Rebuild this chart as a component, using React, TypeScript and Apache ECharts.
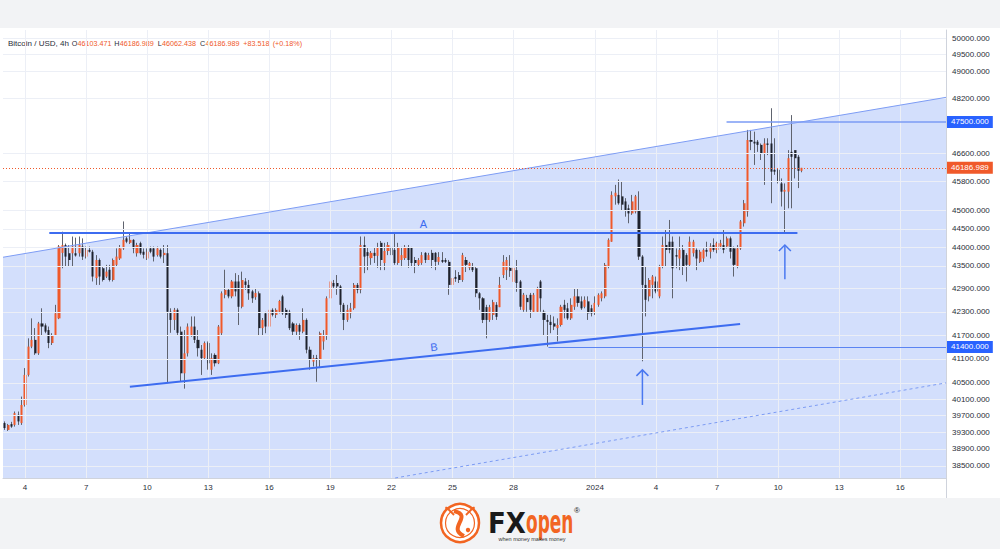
import React, { useEffect, useRef } from 'react';
import * as echarts from 'echarts';

// ---- time base (4h candles) ----
const T0 = Date.UTC(2023, 11, 3, 0, 0, 0);
const SLOT = 4 * 3600 * 1000;
const t = (slot: number) => T0 + slot * SLOT;

// ---- OHLC ----
const opens = [
  39520, 39355, 39495, 39475, 39720, 39520, 39960, 40700, 41410, 41580,
  41240, 42000, 41950, 41830, 41500, 41700, 42130, 43850, 44060, 43840,
  43840, 43840, 43840, 44020, 43750, 43930, 43880, 43180, 43660, 43440,
  43220, 43400, 43130, 43530, 43700, 43970, 44240, 44120, 44200, 43840,
  44110, 43880, 43700, 43970, 43970, 43790, 43930, 43790, 43840, 42300,
  42090, 42350, 41790, 40740, 41240, 41700, 41920, 41580, 41330, 41120,
  41500, 40830, 41200, 40990, 41750, 42740, 42870, 42700, 43090, 43090,
  42430, 43090, 43000, 42830, 42680, 42780, 41880, 42260, 41920, 42350,
  42220, 42300, 42700, 42350, 42300, 42000, 41790, 41960, 41790, 42090,
  41330, 41030, 41120, 41080, 41540, 41700, 42650, 43050, 43050, 42960,
  42480, 42090, 42260, 42390, 43000, 42870, 44060, 43870, 43710, 43850,
  43770, 44120, 43580, 43900, 44010, 43930, 43580, 43660, 43710, 43980,
  43980, 43660, 43530, 43580, 43850, 43660, 43850, 43850, 43610, 43660,
  43660, 43610, 43000, 43210, 43260, 43130, 43660, 43450, 43470, 43440,
  42780, 42650, 42420, 42090, 42220, 42480, 42420, 43260, 43390, 43450,
  43080, 43390, 43090, 42350, 42660, 42740, 42300, 42300, 43090, 42300,
  42090, 42040, 42000, 41880, 41960, 42480, 42390, 42130, 42430, 42700,
  42570, 42430, 42570, 42390, 42300, 42480, 42650, 42700, 43490, 44150,
  45390, 45430, 45390, 45250, 45060, 44920, 44970, 45010, 43750, 43000,
  42700, 43000, 43090, 42700, 43490, 44060, 44150, 44150, 43790, 43700,
  43930, 43790, 43530, 43840, 43930, 43610, 43700, 43930, 43880, 44060,
  43930, 44020, 44060, 44020, 44240, 43970, 43490, 43970, 44650, 44970,
  46980, 46930, 46930, 46840, 46600, 46880, 46880, 46130, 46130, 45750,
  45520, 45520, 46640, 46690, 46500, 46103.471,
];
const closes = [
  39400, 39475, 39435, 39760, 39560, 39960, 40700, 41410, 41580, 41240,
  42000, 41920, 41790, 41500, 41700, 42260, 44020, 44060, 43750, 43660,
  44020, 43780, 44060, 43750, 43930, 43880, 43220, 43660, 43220, 43130,
  43350, 43130, 43660, 43750, 43970, 44200, 44150, 44200, 43970, 44060,
  43840, 43800, 43880, 43880, 43750, 43970, 43750, 43850, 42300, 42090,
  42350, 41760, 40740, 41240, 41920, 41920, 41580, 41370, 41120, 41500,
  40990, 41120, 40990, 41920, 42780, 42870, 42700, 43090, 42830, 42430,
  43130, 43000, 42780, 42650, 42790, 41880, 42090, 41920, 42350, 42220,
  42350, 42580, 42260, 42220, 41880, 41790, 41960, 41790, 42090, 41330,
  41080, 41120, 41080, 41750, 41700, 42650, 43090, 42960, 42960, 42480,
  42090, 42350, 42390, 43000, 42870, 44060, 43750, 43770, 43850, 43770,
  43980, 43660, 43900, 44060, 43790, 43580, 44010, 43790, 44010, 43660,
  43580, 43580, 43660, 43790, 43660, 43790, 43660, 43610, 43740, 43610,
  43610, 43000, 43180, 43160, 43130, 43790, 43530, 43580, 43390, 42780,
  42650, 42090, 42090, 42420, 42550, 42170, 43000, 43610, 43660, 43370,
  43450, 43050, 42430, 42740, 42550, 42350, 42740, 42910, 42650, 42090,
  42040, 41960, 41920, 41960, 42430, 42350, 42130, 42480, 42700, 42530,
  42390, 42610, 42260, 42260, 42530, 42740, 42780, 43530, 44200, 45430,
  45490, 45200, 45160, 45010, 44920, 45250, 45390, 43750, 43000, 42610,
  43130, 43220, 42830, 43490, 44060, 43930, 43930, 43440, 43750, 43930,
  43490, 43530, 44150, 44150, 43700, 43880, 43930, 43880, 44020, 43930,
  44110, 44110, 43930, 44240, 43880, 43530, 43970, 44700, 45200, 46980,
  46930, 46880, 46840, 46600, 46880, 46840, 46080, 46080, 45800, 45520,
  45570, 46460, 46500, 46460, 46103.471, 46186.989,
];
const lows = [
  39355, 39330, 39405, 39435, 39475, 39475, 39920, 40660, 41370, 41200,
  41200, 41700, 41750, 41370, 41450, 41690, 42110, 43440, 43490, 43490,
  43490, 43750, 43750, 43660, 43700, 43860, 43090, 43000, 43000, 43090,
  43180, 43090, 43090, 43490, 43660, 43930, 44110, 44090, 43840, 43750,
  43800, 43700, 43660, 43840, 43620, 43750, 43700, 43580, 40500, 41760,
  41830, 41700, 40540, 40360, 41160, 41660, 41500, 41160, 40700, 41080,
  40830, 40700, 40910, 40970, 41700, 42650, 42650, 42650, 42700, 41960,
  42390, 42870, 42610, 42530, 42610, 41700, 41700, 41750, 41660, 42180,
  42140, 42260, 42220, 42140, 41830, 41700, 41700, 41580, 41750, 41240,
  40830, 40910, 40530, 40870, 41330, 41580, 42610, 42910, 42740, 42260,
  41830, 42040, 42130, 42350, 42780, 42780, 43310, 43390, 43530, 43580,
  43450, 43390, 43390, 43790, 43580, 43530, 43530, 43470, 43660, 43450,
  43470, 43310, 43470, 43530, 43580, 43660, 43450, 43390, 43530, 43580,
  43580, 42740, 42950, 43080, 43050, 43080, 43340, 43390, 43340, 42680,
  42350, 42010, 41620, 42040, 42090, 42090, 42420, 43180, 43130, 43210,
  43050, 42820, 42350, 42300, 42300, 42140, 42270, 42270, 42300, 41700,
  41410, 41750, 41830, 41540, 41920, 42130, 42090, 42090, 42350, 42430,
  42350, 42390, 42090, 42180, 42220, 42430, 42570, 42650, 43440, 44150,
  45160, 45160, 45010, 44830, 44650, 44880, 44920, 43660, 41040, 42180,
  42570, 42650, 42780, 42650, 43440, 43490, 43840, 42650, 43440, 43390,
  43260, 43090, 43490, 43750, 43390, 43580, 43610, 43750, 43700, 43880,
  43840, 43970, 43840, 43970, 43700, 43220, 43440, 43930, 44560, 44830,
  46690, 46270, 46640, 46410, 45710, 46550, 45200, 45990, 45750, 45110,
  44380, 45060, 45060, 45890, 45620, 46062.438,
];
const highs = [
  39560, 39500, 39550, 39800, 39800, 40165, 40870, 41620, 42130, 41880,
  42040, 42390, 42000, 41920, 41750, 42480, 44060, 44420, 44100, 44060,
  44290, 44260, 44290, 44240, 44020, 44020, 43930, 43790, 43700, 43480,
  43530, 43530, 43700, 43970, 44060, 44700, 44290, 44380, 44220, 44120,
  44150, 43970, 43970, 44020, 44020, 44020, 43970, 44060, 44060, 42390,
  42400, 42390, 41920, 41830, 42000, 42180, 42180, 41830, 41450, 41540,
  41540, 41240, 41240, 41960, 42830, 43400, 42910, 43130, 43310, 43260,
  43350, 43180, 43130, 42870, 42920, 42830, 42140, 42300, 42390, 42390,
  42390, 42610, 42740, 42400, 42350, 42040, 42000, 42000, 42390, 42130,
  41410, 41200, 41200, 41790, 41830, 42700, 43490, 43130, 43260, 43000,
  42530, 42480, 42530, 43050, 43050, 44290, 44290, 43980, 43900, 43980,
  44120, 44170, 44120, 44140, 44250, 44390, 44120, 44010, 44060, 44060,
  44010, 43740, 43710, 43870, 43870, 43850, 43930, 43870, 43870, 43870,
  43710, 43660, 43340, 43390, 43340, 43850, 43740, 43610, 43580, 43470,
  42810, 42680, 42480, 42480, 42610, 42550, 43210, 43790, 43740, 43790,
  43530, 43660, 43130, 42790, 42740, 42790, 42790, 42950, 43130, 42350,
  42220, 42220, 42180, 42130, 42480, 42610, 42530, 42650, 42910, 42910,
  42700, 42700, 42700, 42480, 42700, 42780, 42830, 43580, 44240, 45530,
  45710, 45860, 45810, 45340, 45160, 45430, 45430, 45530, 43790, 43490,
  43180, 43260, 43220, 43530, 44290, 44470, 44740, 44290, 43970, 44290,
  44060, 43840, 44290, 44200, 43970, 43930, 43970, 44150, 44110, 44240,
  44150, 44200, 44470, 44290, 44290, 44020, 44060, 44740, 45290, 47270,
  47270, 47220, 46980, 46880, 47030, 47030, 47900, 47030, 46180, 45890,
  45750, 46690, 47700, 46690, 46550, 46186.989,
];

// ---- axes ----
const priceMin = 38216;
const priceMax = 50245;
const slotFirst = -0.5;
const slotLast = 277.5;
const yTickValues = [50000, 49500, 49000, 48200, 46600, 45800, 45000, 44500, 44000, 43500, 42900, 42300, 41700, 41100, 40500, 40100, 39700, 39300, 38900, 38500];
const xTickDates = ['2023-12-04', '2023-12-07', '2023-12-10', '2023-12-13', '2023-12-16', '2023-12-19', '2023-12-22', '2023-12-25', '2023-12-28', '2024-01-01', '2024-01-04', '2024-01-07', '2024-01-10', '2024-01-13', '2024-01-16'];
const xTickLabels = ['4', '7', '10', '13', '16', '19', '22', '25', '28', '2024', '4', '7', '10', '13', '16'];

// ---- drawings: [startSlot, startPrice, endSlot, endPrice] ----
const channelUpper = [-0.5, 43733, 277.5, 48220];
const channelMid = [115.1, 38216, 277.5, 40502];
const lineA = [13.15, 44400, 233.7, 44400];
const lineB = [36.9, 40404, 216.8, 41987];
const level47500 = [212.8, 47500, 277.5, 47500];
const level41400 = [160.3, 41400, 277.5, 41400];
const arrowSlots = [188, 230];
const arrowFrom = [39960, 43150];
const arrowTo = [40825, 44060];

// ---- styles ----
const FONT = 'Liberation Sans, Arial, sans-serif';
const ORANGE = '#f0592a';
const LOGO = '#f26522';
const DARK = '#1e222d';
const WICK = '#5f636e';
const BLUE = '#3d6cf0';
const TEXT = '#2a2e39';
const GRID = '#eceff6';
const FILL = 'rgba(170,193,250,0.52)';

const xTickTimes = xTickDates.map((d) => Date.parse(d + 'T00:00:00Z'));

const seg = (s: number[], style: any, label?: any) => [
  { coord: [t(s[0]), s[1]], lineStyle: style, label: label || { show: false } },
  { coord: [t(s[2]), s[3]] },
];

function buildOption() {
  const n = opens.length;
  const wickData = opens.map((o, i) => [t(i), o, closes[i], lows[i], highs[i]]);
  const bodyData = opens.map((o, i) => [t(i), o, closes[i], Math.min(o, closes[i]), Math.max(o, closes[i])]);
  const lastO = opens[n - 1];
  const lastH = highs[n - 1];
  const lastL = lows[n - 1];
  const lastC = closes[n - 1];
  const chg = lastC - closes[n - 2];
  const pct = (chg / closes[n - 2]) * 100;

  const txt = (x: number, text: string, fill: string, size = 7.2) => ({
    type: 'text', x, y: 43, silent: true,
    style: { text, fill, fontSize: size, fontFamily: FONT, verticalAlign: 'middle', align: 'left' },
  });

  const axisLab = (bg: string, text: string) => ({
    show: true, position: 'end', formatter: text, color: '#fff', backgroundColor: bg,
    padding: [2, 4, 2, 4], fontSize: 8, fontFamily: FONT, distance: 1,
  });

  return {
    animation: false,
    textStyle: { fontFamily: FONT },
    grid: { left: 3, right: 54, top: 30, bottom: 71 },
    xAxis: {
      type: 'time', min: t(slotFirst), max: t(slotLast),
      axisLine: { show: true, lineStyle: { color: '#cfd3dc', width: 1 } },
      axisTick: { show: false },
      splitLine: { show: false },
      axisLabel: { show: false },
    },
    yAxis: {
      type: 'log', logBase: 10, min: priceMin, max: priceMax, position: 'right',
      axisLine: { show: true, lineStyle: { color: '#cfd3dc' } },
      axisTick: { show: false }, axisLabel: { show: false }, splitLine: { show: false },
    },
    graphic: [
      { type: 'rect', silent: true, shape: { x: 0, y: 0, width: 1000, height: 28 }, style: { fill: '#f2f3f5' } },
      { type: 'rect', silent: true, shape: { x: 0, y: 498, width: 1000, height: 51 }, style: { fill: '#f2f3f5' } },
      { type: 'line', silent: true, shape: { x1: 946.5, y1: 478, x2: 946.5, y2: 498 }, style: { stroke: '#cfd3dc' } },
      txt(8, 'Bitcoin / USD, 4h', TEXT, 8),
      txt(71.7, 'O', TEXT), txt(77.6, lastO.toFixed(3), ORANGE),
      txt(114.3, 'H', TEXT), txt(119.8, lastH.toFixed(3), ORANGE),
      txt(157.7, 'L', TEXT), txt(161.9, lastL.toFixed(3), ORANGE),
      txt(200, 'C', TEXT), txt(205.4, lastC.toFixed(3), ORANGE),
      txt(243.3, (chg >= 0 ? '+' : '') + chg.toFixed(3), ORANGE),
      txt(272.7, '(' + (pct >= 0 ? '+' : '') + pct.toFixed(2) + '%)', ORANGE),
      // logo
      {
        type: 'group', silent: true,
        children: [
          { type: 'circle', shape: { cx: 460, cy: 523, r: 19 }, style: { fill: '#fff', stroke: LOGO, lineWidth: 2.5 } },
          { type: 'circle', shape: { cx: 460, cy: 523, r: 14.5 }, style: { fill: 'none', stroke: LOGO, lineWidth: 1.2 } },
          { type: 'bezierCurve', shape: { x1: 454, y1: 511, x2: 464, y2: 536, cpx1: 474, cpy1: 516, cpx2: 446, cpy2: 528 }, style: { stroke: LOGO, lineWidth: 4, fill: 'none' } },
          { type: 'bezierCurve', shape: { x1: 447, y1: 510, x2: 454, y2: 515, cpx1: 444, cpy1: 504, cpx2: 450, cpy2: 511 }, style: { stroke: LOGO, lineWidth: 2, fill: 'none' } },
          { type: 'bezierCurve', shape: { x1: 473, y1: 510, x2: 466, y2: 515, cpx1: 476, cpy1: 504, cpx2: 470, cpy2: 511 }, style: { stroke: LOGO, lineWidth: 2, fill: 'none' } },
          { type: 'circle', shape: { cx: 468, cy: 530, r: 2.2 }, style: { fill: LOGO } },
          { type: 'text', x: 488, y: 523, scaleX: 0.9, style: { text: 'FX', fill: '#1a1a1a', fontSize: 29, fontWeight: 'bold', fontFamily: 'DejaVu Sans, sans-serif', verticalAlign: 'middle', align: 'left' } },
          { type: 'text', x: 526, y: 522, scaleX: 0.53, style: { text: 'open', fill: LOGO, fontSize: 32, fontWeight: 'bold', fontFamily: 'DejaVu Sans, sans-serif', verticalAlign: 'middle', align: 'left' } },
          { type: 'text', x: 577, y: 510, style: { text: '®', fill: '#1a1a1a', fontSize: 8, fontFamily: FONT, verticalAlign: 'middle', align: 'center' } },
          { type: 'text', x: 532, y: 538.5, style: { text: 'when money makes money', fill: '#333', fontSize: 5.5, fontFamily: FONT, verticalAlign: 'middle', align: 'center' } },
        ],
      },
    ],
    series: [
      {
        name: 'grid', type: 'line', z: 0, silent: true, symbol: 'none',
        data: [[t(slotFirst), priceMin]], lineStyle: { opacity: 0 },
        markLine: {
          silent: true, symbol: ['none', 'none'], animation: false,
          data: [
            ...yTickValues.map((v) => ({
              yAxis: v,
              lineStyle: { color: GRID, width: 1, type: 'solid' },
              label: { show: true, position: 'end', formatter: v.toFixed(3), color: TEXT, fontSize: 8, fontFamily: FONT, distance: 6 },
            })),
            ...xTickTimes.map((tm, i) => ({
              xAxis: tm,
              lineStyle: { color: GRID, width: 1, type: 'solid' },
              label: { show: true, position: 'start', formatter: xTickLabels[i], color: TEXT, fontSize: 8, fontFamily: FONT, distance: 5 },
            })),
          ],
        },
      },
      {
        name: 'channel', type: 'custom', z: 1, silent: true,
        data: [[t(channelUpper[0]), channelUpper[1], t(channelUpper[2]), channelUpper[3]]],
        encode: { x: [0, 2], y: [1, 3] },
        renderItem: (params: any, api: any) => {
          const p1 = api.coord([api.value(0), api.value(1)]);
          const p2 = api.coord([api.value(2), api.value(3)]);
          const b2 = api.coord([api.value(2), priceMin]);
          const b1 = api.coord([api.value(0), priceMin]);
          return { type: 'polygon', shape: { points: [p1, p2, b2, b1] }, style: { fill: FILL } };
        },
      },
      {
        name: 'wicks', type: 'candlestick', z: 2, silent: true, barWidth: 1,
        data: wickData,
        itemStyle: { color: WICK, color0: WICK, borderColor: WICK, borderColor0: WICK, borderWidth: 1 },
      },
      {
        name: 'bodies', type: 'candlestick', z: 3, silent: true, barWidth: 2.6,
        data: bodyData,
        itemStyle: { color: ORANGE, color0: DARK, borderColor: ORANGE, borderColor0: DARK, borderWidth: 0 },
        markLine: {
          silent: true, symbol: ['none', 'none'], animation: false,
          data: [
            seg(channelUpper, { color: '#7d9cf4', width: 1, type: 'solid' }),
            seg(channelMid, { color: '#7d9cf4', width: 1, type: [3, 3] }),
            seg(lineA, { color: BLUE, width: 2, type: 'solid' }, { show: true, position: 'middle', formatter: 'A', color: BLUE, fontSize: 11, fontFamily: FONT, distance: 3 }),
            seg(lineB, { color: BLUE, width: 2, type: 'solid' }, { show: true, position: 'middle', formatter: 'B', color: BLUE, fontSize: 11, fontFamily: FONT, distance: 3 }),
            seg(level47500, { color: '#7b9bf5', width: 1.5, type: 'solid' }, axisLab('#2962ff', '47500.000')),
            seg(level41400, { color: '#5b84f2', width: 1, type: 'solid' }, axisLab('#2962ff', '41400.000')),
            {
              yAxis: closes[n - 1],
              lineStyle: { color: ORANGE, width: 1, type: [1, 2] },
              label: axisLab(ORANGE, closes[n - 1].toFixed(3)),
            },
          ],
        },
      },
      {
        name: 'arrows', type: 'custom', z: 5, silent: true,
        data: arrowSlots.map((s, i) => [t(s), arrowFrom[i], arrowTo[i]]),
        encode: { x: 0, y: [1, 2] },
        renderItem: (params: any, api: any) => {
          const a = api.coord([api.value(0), api.value(1)]);
          const b = api.coord([api.value(0), api.value(2)]);
          return {
            type: 'group',
            children: [
              { type: 'line', shape: { x1: a[0], y1: a[1], x2: b[0], y2: b[1] }, style: { stroke: '#4a78f0', lineWidth: 1.5 } },
              { type: 'polyline', shape: { points: [[b[0] - 6, b[1] + 6], [b[0], b[1]], [b[0] + 6, b[1] + 6]] }, style: { stroke: '#4a78f0', lineWidth: 1.5, fill: 'none' } },
            ],
          };
        },
      },
    ],
  };
}

export default function App() {
  const ref = useRef<HTMLDivElement>(null);
  useEffect(() => {
    const chart = echarts.init(ref.current as HTMLDivElement, undefined, { renderer: 'svg' });
    chart.setOption(buildOption() as any);
    return () => chart.dispose();
  }, []);
  return (
    <div
      ref={ref}
      style={{ position: 'absolute', left: 0, top: 0, width: 1000, height: 549, background: '#ffffff' }}
    />
  );
}
